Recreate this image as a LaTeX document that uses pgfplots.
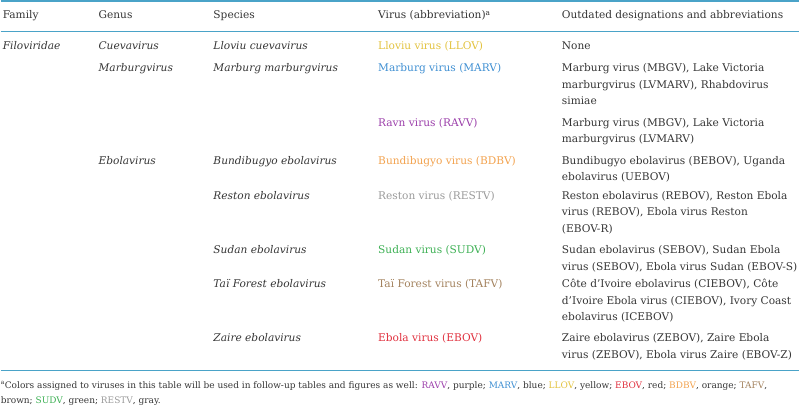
\documentclass[border=0pt]{standalone}
\usepackage{fontspec}
\setmainfont{DejaVu Serif}
\usepackage{pgfplots}
\pgfplotsset{compat=1.18}
\definecolor{txt}{HTML}{353535}
\definecolor{rule}{HTML}{4AA3C8}
\definecolor{cLLOV}{HTML}{E2C23E}
\definecolor{cMARV}{HTML}{3F8FD2}
\definecolor{cRAVV}{HTML}{9B3FAA}
\definecolor{cBDBV}{HTML}{F2A24E}
\definecolor{cRESTV}{HTML}{9A9A9A}
\definecolor{cSUDV}{HTML}{3DB054}
\definecolor{cTAFV}{HTML}{A3825E}
\definecolor{cEBOV}{HTML}{E0303E}
\newcommand{\cell}[3]{\node[anchor=base west,inner sep=0pt,text=txt,font=\fontsize{10.6}{12}\selectfont] at (axis cs:#1,#2) {#3};}
\newcommand{\fn}[3]{\node[anchor=base west,inner sep=0pt,text=txt,font=\fontsize{9.0}{10}\selectfont] at (axis cs:#1,#2) {#3};}
\begin{document}
\begin{tikzpicture}
\begin{axis}[width=800pt,height=408pt,scale only axis,
  xmin=0,xmax=800,ymin=0,ymax=408,y dir=reverse,
  hide axis,clip=false]
\addplot[draw=none] coordinates {(0,0) (800,408)};
\addplot[rule,line width=1.2pt] coordinates {(0,1) (800,1)};
\addplot[rule,line width=1.2pt] coordinates {(0,31.5) (800,31.5)};
\addplot[rule,line width=1.2pt] coordinates {(0,371) (800,371)};
% header
\cell{2}{19}{Family}
\cell{98}{19}{Genus}
\cell{213}{19}{Species}
\cell{378}{19}{Virus (abbreviation)\textsuperscript{a}}
\cell{562}{19}{Outdated designations and abbreviations}
% row 1
\cell{2}{50}{\itshape Filoviridae}
\cell{98}{50}{\itshape Cuevavirus}
\cell{213}{50}{\itshape Lloviu cuevavirus}
\cell{378}{50}{\color{cLLOV}Lloviu virus (LLOV)}
\cell{562}{50}{None}
% row 2
\cell{98}{72}{\itshape Marburgvirus}
\cell{213}{72}{\itshape Marburg marburgvirus}
\cell{378}{72}{\color{cMARV}Marburg virus (MARV)}
\cell{562}{72}{Marburg virus (MBGV), Lake Victoria}
\cell{562}{88.5}{marburgvirus (LVMARV), Rhabdovirus}
\cell{562}{105}{simiae}
% row 3
\cell{378}{126.5}{\color{cRAVV}Ravn virus (RAVV)}
\cell{562}{126.5}{Marburg virus (MBGV), Lake Victoria}
\cell{562}{143}{marburgvirus (LVMARV)}
% row 4
\cell{98}{164.5}{\itshape Ebolavirus}
\cell{213}{164.5}{\itshape Bundibugyo ebolavirus}
\cell{378}{164.5}{\color{cBDBV}Bundibugyo virus (BDBV)}
\cell{562}{164.5}{Bundibugyo ebolavirus (BEBOV), Uganda}
\cell{562}{181}{ebolavirus (UEBOV)}
% row 5
\cell{213}{199.5}{\itshape Reston ebolavirus}
\cell{378}{199.5}{\color{cRESTV}Reston virus (RESTV)}
\cell{562}{199.5}{Reston ebolavirus (REBOV), Reston Ebola}
\cell{562}{216}{virus (REBOV), Ebola virus Reston}
\cell{562}{232.5}{(EBOV-R)}
% row 6
\cell{213}{254}{\itshape Sudan ebolavirus}
\cell{378}{254}{\color{cSUDV}Sudan virus (SUDV)}
\cell{562}{254}{Sudan ebolavirus (SEBOV), Sudan Ebola}
\cell{562}{270.5}{virus (SEBOV), Ebola virus Sudan (EBOV-S)}
% row 7
\cell{213}{288}{\itshape Taï Forest ebolavirus}
\cell{378}{288}{\color{cTAFV}Taï Forest virus (TAFV)}
\cell{562}{288}{Côte d’Ivoire ebolavirus (CIEBOV), Côte}
\cell{562}{304.5}{d’Ivoire Ebola virus (CIEBOV), Ivory Coast}
\cell{562}{321}{ebolavirus (ICEBOV)}
% row 8
\cell{213}{342.5}{\itshape Zaire ebolavirus}
\cell{378}{342.5}{\color{cEBOV}Ebola virus (EBOV)}
\cell{562}{342.5}{Zaire ebolavirus (ZEBOV), Zaire Ebola}
\cell{562}{359}{virus (ZEBOV), Ebola virus Zaire (EBOV-Z)}
% footnote
\fn{0}{389}{\textsuperscript{a}Colors assigned to viruses in this table will be used in follow-up tables and figures as well: {\color{cRAVV}RAVV}, purple; {\color{cMARV}MARV}, blue; {\color{cLLOV}LLOV}, yellow; {\color{cEBOV}EBOV}, red; {\color{cBDBV}BDBV}, orange; {\color{cTAFV}TAFV},}
\fn{0}{404.5}{brown; {\color{cSUDV}SUDV}, green; {\color{cRESTV}RESTV}, gray.}
\end{axis}
\end{tikzpicture}
\end{document}
